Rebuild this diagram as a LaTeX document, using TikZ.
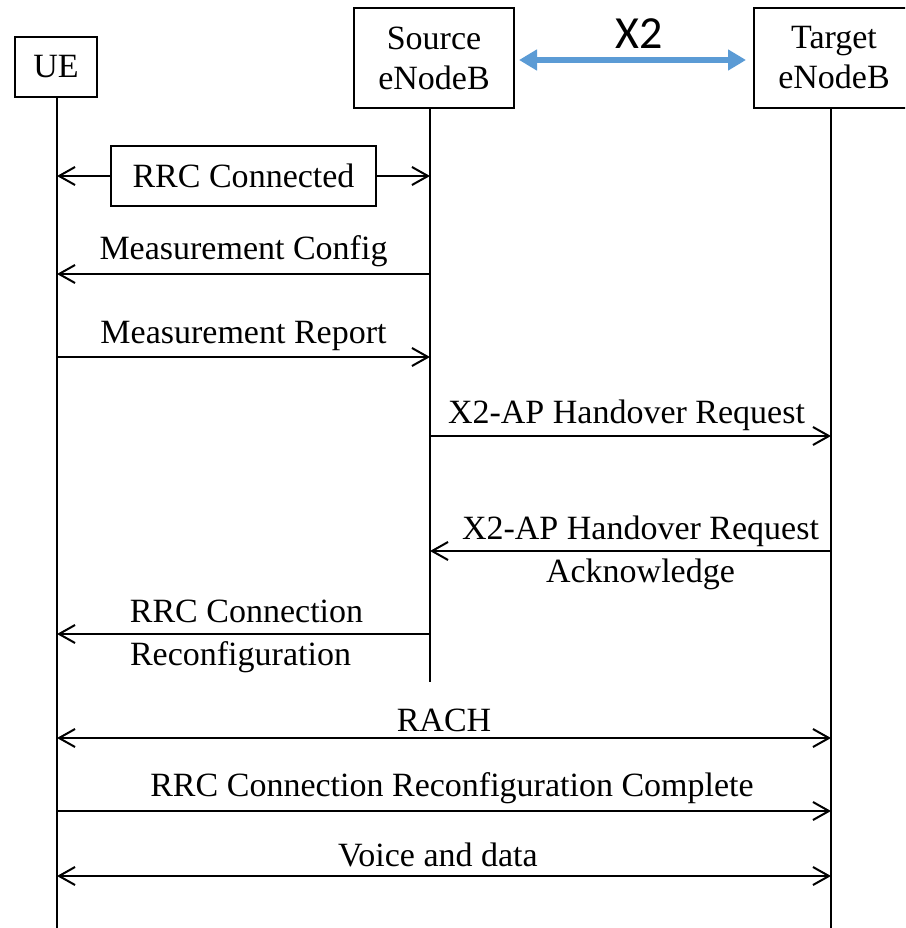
\documentclass[tikz,border=0pt]{standalone}
\usepackage{fontspec}
\setmainfont{Liberation Serif}
\newfontfamily\calibri{Carlito}
\usepackage{tikz}
\usetikzlibrary{arrows.meta}
\definecolor{enlace}{RGB}{91,155,213}

\begin{document}
\begin{tikzpicture}[x=1pt, y=-1pt, >={Straight Barb[length=16pt,width=18pt]},
        every node/.style={font=\fontsize{34}{40}\selectfont},
        box/.style={draw, line width=2pt, inner sep=0pt, align=center},
        life/.style={line width=2pt},
        msg/.style={line width=2pt},
        lbl/.style={inner sep=0pt, text height=22pt, text depth=0pt},
        x2link/.style={enlace, line width=5.5pt, {Triangle[length=18pt,width=20pt]}-{Triangle[length=18pt,width=20pt]}}]
        \path[use as bounding box, clip] (0,0) rectangle (905,928);
        % entidades
        \node[box, minimum width=82pt, minimum height=60pt] (ue) at (56,67) {UE};
        \node[box, minimum width=160pt, minimum height=100pt] (src) at (434,58) {Source\\eNodeB};
        \node[box, minimum width=160pt, minimum height=100pt] (tgt) at (834,58) {Target\\eNodeB};
        \draw[x2link] ([xshift=4pt,yshift=-2pt]src.east) -- ([xshift=-7pt,yshift=-2pt]tgt.west)
            node[lbl, text=black, midway, above=9pt, xshift=7pt, font=\calibri\fontsize{46}{50}\selectfont] {X2};
        % lineas de vida
        \coordinate (ueL) at (57,928);
        \coordinate (srcL) at (430,682);
        \coordinate (tgtL) at (831,928);
        \draw[life] (ue.south -| ueL) -- (ueL);
        \draw[life] (src.south -| srcL) -- (srcL);
        \draw[life] (tgt.south -| tgtL) -- (tgtL);
        % mensajes
        \node[box, minimum width=265pt, minimum height=60pt] (rrc) at (243.5,176) {RRC Connected};
        \draw[msg, <-] (ueL |- rrc.west) -- (rrc.west);
        \draw[msg, ->] (rrc.east) -- (srcL |- rrc.east);
        \draw[msg, <-] (ueL |- 0,274) -- (srcL |- 0,274) node[lbl, midway, above=14pt] {Measurement Config};
        \draw[msg, ->] (ueL |- 0,357) -- (srcL |- 0,357) node[lbl, midway, above=13pt] {Measurement Report};
        \draw[msg, ->] (srcL |- 0,436) -- (tgtL |- 0,436) node[lbl, midway, above=12pt, xshift=-4pt] {X2-AP Handover Request};
        \draw[msg, <-] (srcL |- 0,551) -- (tgtL |- 0,551)
            node[lbl, midway, above=11pt, xshift=10pt] {X2-AP Handover Request}
            node[lbl, midway, below=8pt, xshift=10pt] {Acknowledge};
        \draw[msg, <-] (ueL |- 0,634) -- (srcL |- 0,634)
            node[lbl, midway, above=11pt, xshift=3pt] {RRC Connection}
            node[lbl, midway, below=8pt, xshift=-3pt] {Reconfiguration};
        \draw[msg, <->] (ueL |- 0,738) -- (tgtL |- 0,738) node[lbl, midway, above=6pt] {RACH};
        \draw[msg, ->] (ueL |- 0,811) -- (tgtL |- 0,811) node[lbl, midway, above=14pt, xshift=8pt] {RRC Connection Reconfiguration Complete};
        \draw[msg, <->] (ueL |- 0,876) -- (tgtL |- 0,876) node[lbl, midway, above=9pt, xshift=-6pt] {Voice and data};
\end{tikzpicture}
\end{document}
